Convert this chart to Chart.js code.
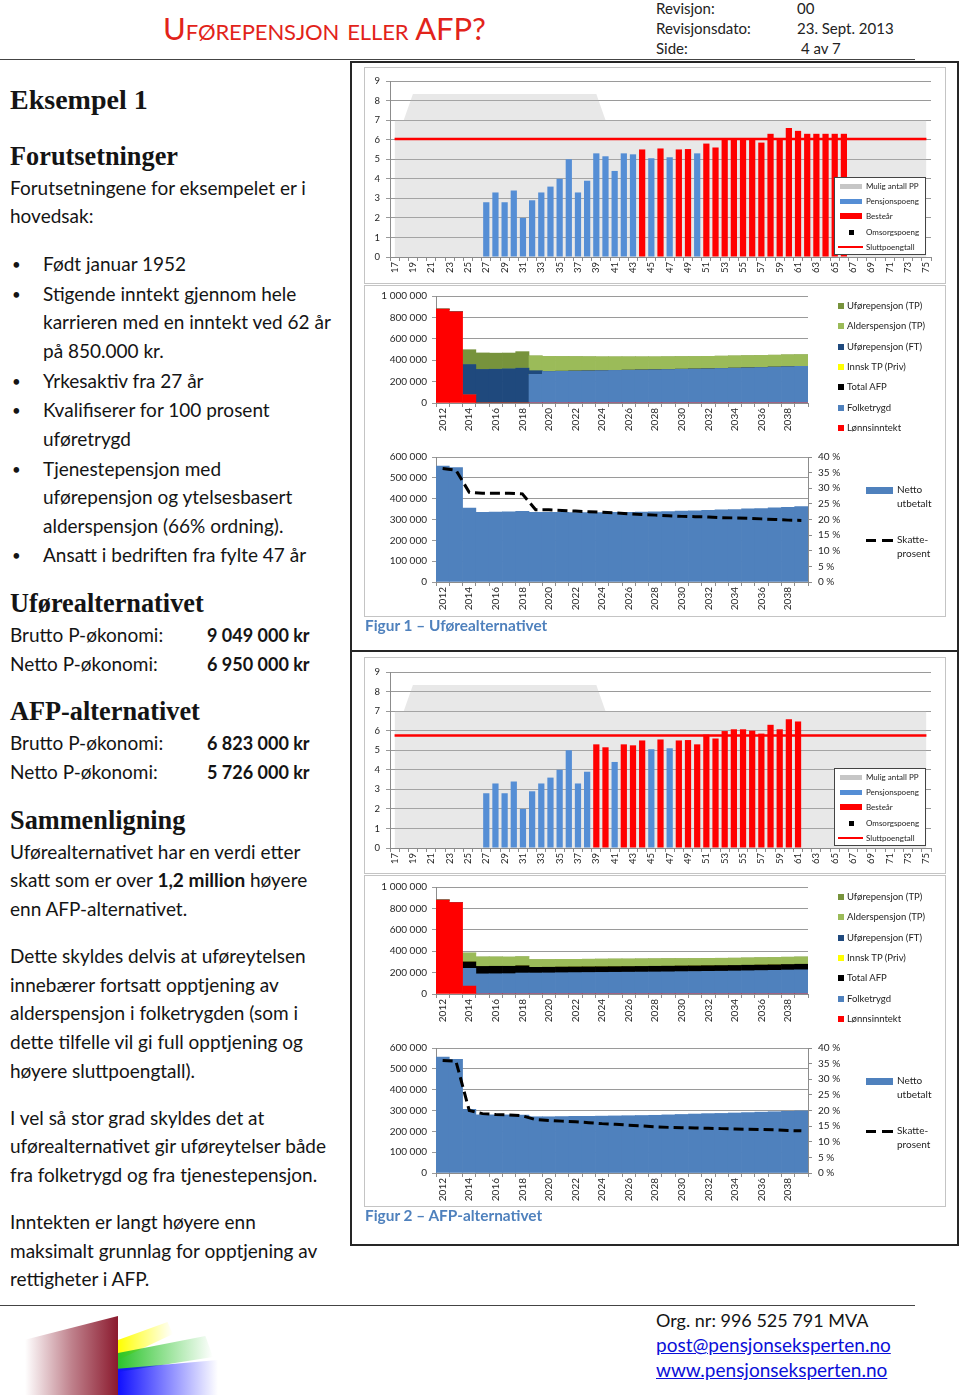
<!DOCTYPE html>
<html lang="no">
<head>
<meta charset="utf-8">
<title>Uførepensjon eller AFP?</title>
<script src="https://cdn.jsdelivr.net/npm/chart.js@4.4.0/dist/chart.umd.min.js"></script>
<style>
  body { margin:0; width:960px; height:1398px; position:relative; background:#fff; overflow:hidden;
         font-family: Lato, "Open Sans", sans-serif; color:#141414; }
  canvas { position:absolute; }
  .l { position:absolute; left:10px; height:28px; line-height:28px; font-size:19px; white-space:nowrap; }
  .b { left:43px; }
  .dot { position:absolute; left:12px; font-size:15px; line-height:28px; height:28px; }
  .h { position:absolute; left:10px; font:bold 26.3px "Liberation Serif", serif; line-height:32px; white-space:nowrap; }
  .v { left:207px; font-weight:bold; font-size:18px; }
  .box { position:absolute; border:2px solid #262626; box-sizing:border-box; }
  .inner { position:absolute; border:1px solid #c4c4c4; box-sizing:border-box; }
  .cap { position:absolute; left:365px; font-weight:bold; font-size:15.4px; color:#4f81bd; white-space:nowrap; }
  .hdr { position:absolute; font-size:15px; line-height:18px; white-space:nowrap; color:#222; }
  .ft { position:absolute; left:656px; font-size:18px; line-height:24px; white-space:nowrap; }
  .ft a { color:#0b10d8; font-size:19px; }
  .lg { position:absolute; white-space:nowrap; color:#222; }
  .sym { position:absolute; }
  .logo { position:absolute; }
</style>
</head>
<body>

<!-- topptekst -->
<div style="position:absolute;left:163px;top:9px;font-size:31px;line-height:38px;color:#e2231a;font-variant:small-caps;white-space:nowrap;letter-spacing:-0.1px">Uførepensjon eller AFP?</div>
<div class="hdr" style="left:656px;top:-1px">Revisjon:</div>
<div class="hdr" style="left:797px;top:-1px">00</div>
<div class="hdr" style="left:656px;top:19px">Revisjonsdato:</div>
<div class="hdr" style="left:797px;top:19px">23. Sept. 2013</div>
<div class="hdr" style="left:656px;top:39px">Side:</div>
<div class="hdr" style="left:801px;top:39px">4 av 7</div>
<div style="position:absolute;left:0;top:59px;width:915px;height:1px;background:#444"></div>

<!-- venstre kolonne -->
<div class="h" style="top:84px;font-size:28px">Eksempel 1</div>
<div class="h" style="top:141px">Forutsetninger</div>
<div class="l" style="top:174px">Forutsetningene for eksempelet er i</div>
<div class="l" style="top:202px">hovedsak:</div>

<div class="dot" style="top:250px">•</div><div class="l b" style="top:250px">Født januar 1952</div>
<div class="dot" style="top:280px">•</div><div class="l b" style="top:280px">Stigende inntekt gjennom hele</div>
<div class="l b" style="top:308px">karrieren med en inntekt ved 62 år</div>
<div class="l b" style="top:337px">på 850.000 kr.</div>
<div class="dot" style="top:367px">•</div><div class="l b" style="top:367px">Yrkesaktiv fra 27 år</div>
<div class="dot" style="top:396px">•</div><div class="l b" style="top:396px">Kvalifiserer for 100 prosent</div>
<div class="l b" style="top:425px">uføretrygd</div>
<div class="dot" style="top:455px">•</div><div class="l b" style="top:455px">Tjenestepensjon med</div>
<div class="l b" style="top:483px">uførepensjon og ytelsesbasert</div>
<div class="l b" style="top:512px">alderspensjon (66% ordning).</div>
<div class="dot" style="top:541px">•</div><div class="l b" style="top:541px">Ansatt i bedriften fra fylte 47 år</div>

<div class="h" style="top:588px">Uførealternativet</div>
<div class="l" style="top:621px">Brutto P-økonomi:</div><div class="l v" style="top:621px">9 049 000 kr</div>
<div class="l" style="top:650px">Netto P-økonomi:</div><div class="l v" style="top:650px">6 950 000 kr</div>

<div class="h" style="top:696px">AFP-alternativet</div>
<div class="l" style="top:729px">Brutto P-økonomi:</div><div class="l v" style="top:729px">6 823 000 kr</div>
<div class="l" style="top:758px">Netto P-økonomi:</div><div class="l v" style="top:758px">5 726 000 kr</div>

<div class="h" style="top:805px">Sammenligning</div>
<div class="l" style="top:838px">Uførealternativet har en verdi etter</div>
<div class="l" style="top:866px">skatt som er over <b>1,2 million</b> høyere</div>
<div class="l" style="top:895px">enn AFP-alternativet.</div>

<div class="l" style="top:942px">Dette skyldes delvis at uføreytelsen</div>
<div class="l" style="top:971px">innebærer fortsatt opptjening av</div>
<div class="l" style="top:999px">alderspensjon i folketrygden (som i</div>
<div class="l" style="top:1028px">dette tilfelle vil gi full opptjening og</div>
<div class="l" style="top:1057px">høyere sluttpoengtall).</div>

<div class="l" style="top:1104px">I vel så stor grad skyldes det at</div>
<div class="l" style="top:1132px">uførealternativet gir uføreytelser både</div>
<div class="l" style="top:1161px">fra folketrygd og fra tjenestepensjon.</div>

<div class="l" style="top:1208px">Inntekten er langt høyere enn</div>
<div class="l" style="top:1237px">maksimalt grunnlag for opptjening av</div>
<div class="l" style="top:1265px">rettigheter i AFP.</div>

<!-- figurbokser -->
<div class="box" style="left:350px;top:61px;width:609px;height:591px"></div>
<div class="box" style="left:350px;top:650px;width:609px;height:596px"></div>
<div class="inner" style="left:364px;top:67px;width:582px;height:217px"></div>
<div class="inner" style="left:364px;top:285px;width:582px;height:332px"></div>
<div class="inner" style="left:364px;top:657px;width:582px;height:217px"></div>
<div class="inner" style="left:364px;top:875px;width:582px;height:332px"></div>

<canvas id="poeng1" width="576" height="214" style="left:364px;top:68px"></canvas>
<canvas id="inntekt1" width="451" height="155" style="left:364px;top:285px"></canvas>
<canvas id="netto1" width="496" height="172" style="left:364px;top:445px"></canvas>
<canvas id="poeng2" width="576" height="214" style="left:364px;top:659px"></canvas>
<canvas id="inntekt2" width="451" height="155" style="left:364px;top:876px"></canvas>
<canvas id="netto2" width="496" height="172" style="left:364px;top:1036px"></canvas>

<div class="cap" style="top:616px">Figur 1 – Uførealternativet</div>
<div class="cap" style="top:1206px">Figur 2 – AFP-alternativet</div>

<div id="legends"></div>

<!-- bunntekst -->
<div style="position:absolute;left:0;top:1305px;width:915px;height:1px;background:#444"></div>
<div class="logo" style="left:25px;top:1316px;width:93px;height:79px;clip-path:polygon(0 30%,100% 0,100% 100%,0 100%);background:linear-gradient(to right,rgba(139,26,46,0),rgba(139,26,46,0.55) 50%,#8b1a2e)"></div>
<div class="logo" style="left:118px;top:1322px;width:55px;height:40px;clip-path:polygon(0 45%,90% 0,100% 30%,0 95%);background:linear-gradient(to right,#ffff00,rgba(255,255,0,0))"></div>
<div class="logo" style="left:118px;top:1336px;width:95px;height:38px;clip-path:polygon(0 45%,92% 0,100% 55%,0 95%);background:linear-gradient(to right,#2bc42b,rgba(43,196,43,0))"></div>
<div class="logo" style="left:118px;top:1360px;width:100px;height:35px;clip-path:polygon(0 25%,100% 0,100% 100%,0 100%);background:linear-gradient(to right,#1010ff,rgba(16,16,255,0))"></div>
<div class="ft" style="top:1308px">Org. nr: 996 525 791 MVA</div>
<div class="ft" style="top:1333px"><a href="#">post@pensjonseksperten.no</a></div>
<div class="ft" style="top:1358px"><a href="#">www.pensjonseksperten.no</a></div>

<script>
// kategorier
const ages = ['17','18','19','20','21','22','23','24','25','26','27','28','29','30','31','32','33','34','35','36','37','38',
  '39','40','41','42','43','44','45','46','47','48','49','50','51','52','53','54','55','56','57','58','59','60','61','62',
  '63','64','65','66','67','68','69','70','71','72','73','74','75'];
const years = ['2012','2013','2014','2015','2016','2017','2018','2019','2020','2021','2022','2023','2024','2025',
  '2026','2027','2028','2029','2030','2031','2032','2033','2034','2035','2036','2037','2038','2039'];

// mulig antall pensjonspoeng (grå flate), alder 17-75
const muligPP = [7,7,8.33,8.33,8.33,8.33,8.33,8.33,8.33,8.33,8.33,8.33,8.33,8.33,8.33,8.33,8.33,8.33,8.33,8.33,8.33,8.33,
  8.33,7,7,7,7,7,7,7,7,7,7,7,7,7,7,7,7,7,7,7,7,7,7,7,7,7,7,7,7,7,7,7,7,7,7,7,7];

// figur 1 - pensjonspoeng og besteår
const ppAlder1 = [27,28,29,30,31,32,33,34,35,36,37,38,39,40,41,42,43,45,47,50];
const ppPoeng1 = [2.8,3.3,2.8,3.4,2.0,2.9,3.3,3.6,4.0,5.0,3.3,3.9,5.3,5.15,4.4,5.3,5.25,5.05,5.1,5.3];
const bestAlder1 = [44,46,48,49,51,52,53,54,55,56,57,58,59,60,61,62,63,64,65,66];
const bestPoeng1 = [5.5,5.55,5.5,5.52,5.8,5.6,6.0,6.05,6.05,6.0,5.85,6.3,6.05,6.6,6.45,6.3,6.3,6.3,6.3,6.3];
const slutt1 = 6.03;

// figur 2 - pensjonspoeng og besteår
const ppAlder2 = [27,28,29,30,31,32,33,34,35,36,37,38,41,45,47];
const ppPoeng2 = [2.8,3.3,2.8,3.4,2.0,2.9,3.3,3.6,4.0,5.0,3.3,3.9,4.4,5.05,5.1];
const bestAlder2 = [39,40,42,43,44,46,48,49,50,51,52,53,54,55,56,57,58,59,60,61];
const bestPoeng2 = [5.3,5.15,5.3,5.25,5.5,5.55,5.5,5.52,5.3,5.8,5.6,5.98,6.07,6.07,6.0,5.85,6.3,6.07,6.58,6.47];
const slutt2 = 5.75;

// figur 1 - inntekt per år
const lonn1 = [877000,852000,77000,0,0,0,0,0,0,0,0,0,0,0,0,0,0,0,0,0,0,0,0,0,0,0,0,0];
const ftrygd1 = [0,0,0,0,0,0,0,268000,295000,297000,299000,301000,303000,305000,307000,309000,311000,313000,
  316000,318000,320000,323000,326000,329000,332000,336000,340000,343000];
const afp1 = [0,0,0,0,0,0,0,0,0,0,0,0,0,0,0,0,0,0,0,0,0,0,0,0,0,0,0,0];
const innsk1 = [0,0,0,0,0,0,0,0,0,0,0,0,0,0,0,0,0,0,0,0,0,0,0,0,0,0,0,0];
const uforeFT1 = [0,0,283000,314000,316000,320000,326000,34000,0,0,0,0,0,0,0,0,0,0,0,0,0,0,0,0,0,0,0,0];
const alderTP1 = [0,0,0,0,0,0,0,138000,140000,137000,134000,131000,128000,126000,124000,122000,120000,119000,
  117000,116000,116000,115000,114000,113000,112000,111000,110000,108000];
const uforeTP1 = [0,0,138000,154000,150000,147000,154000,0,0,0,0,0,0,0,0,0,0,0,0,0,0,0,0,0,0,0,0,0];

// figur 2 - inntekt per år
const lonn2 = [878000,855000,74000,0,0,0,0,0,0,0,0,0,0,0,0,0,0,0,0,0,0,0,0,0,0,0,0,0];
const ftrygd2 = [0,0,166000,188000,189000,190000,196000,196000,197000,199000,200000,201000,202000,203000,204000,
  205000,206000,207000,209000,210000,212000,213000,215000,217000,219000,221000,224000,226000];
const afp2 = [0,0,60000,70000,70000,69000,68000,53000,53000,53000,53000,53000,53000,53000,53000,53000,53000,53000,
  53000,53000,53000,53000,52000,52000,52000,52000,52000,52000];
const innsk2 = [0,0,0,0,0,0,0,0,0,0,0,0,0,0,0,0,0,0,0,0,0,0,0,0,0,0,0,0];
const uforeFT2 = [0,0,0,0,0,0,0,0,0,0,0,0,0,0,0,0,0,0,0,0,0,0,0,0,0,0,0,0];
const alderTP2 = [0,0,83000,88000,87000,86000,84000,72000,72000,72000,71000,71000,71000,71000,70000,70000,70000,
  70000,68000,68000,68000,68000,68000,68000,68000,68000,68000,68000];
const uforeTP2 = [0,0,0,0,0,0,0,0,0,0,0,0,0,0,0,0,0,0,0,0,0,0,0,0,0,0,0,0];

// netto utbetalt og skatteprosent
const netto1 = [557000,549000,355000,334000,336000,337000,339000,335000,334000,334000,333000,333000,333000,334000,
  335000,336000,337000,338000,340000,342000,344000,346000,348000,351000,353000,356000,359000,362000];
const skatt1 = [36.3,35.8,28.7,28.4,28.4,28.4,28.2,23.1,23.1,22.9,22.7,22.5,22.3,22.1,21.8,21.6,21.4,21.2,
  21.0,20.9,20.8,20.6,20.5,20.4,20.2,20.0,19.8,19.7];
const netto2 = [556000,546000,306000,279000,279000,279000,278000,270000,270000,271000,272000,272000,273000,274000,
  275000,276000,277000,279000,281000,283000,285000,286000,288000,290000,292000,294000,296000,298000];
const skatt2 = [36.0,35.8,20.0,19.0,18.7,18.6,18.3,17.1,16.8,16.6,16.4,16.1,15.8,15.6,15.3,15.1,14.8,14.6,
  14.5,14.4,14.3,14.2,14.1,14.0,13.9,13.8,13.6,13.5];

const poengLabels = ['Mulig antall PP','Pensjonspoeng','Besteår','Omsorgspoeng','Sluttpoengtall'];
const inntektLabels = ['Uførepensjon (TP)','Alderspensjon (TP)','Uførepensjon (FT)','Innsk TP (Priv)','Total AFP','Folketrygd','Lønnsinntekt'];
const inntektColors = ['#77933c','#9bbb59','#1f497d','#ffff00','#000000','#4f81bd','#ff0000'];

Chart.defaults.font.family = 'Lato';
Chart.defaults.color = '#262626';

const gridCol = '#9a9a9a';
const axisCol = '#8c8c8c';

function fmt(v) {
  return String(v).replace(/\B(?=(\d{3})+(?!\d))/g, ' ');
}
function pts(a, v) {
  return a.map((x, i) => ({ x: String(x), y: v[i] }));
}
function everyOther(v, i) {
  return i % 2 === 0 ? this.getLabelForValue(v) : '';
}
function xScale(h, size) {
  return {
    offset: true,
    grid: { display: true, drawOnChartArea: false, tickLength: 4, color: axisCol, offset: true },
    border: { color: axisCol },
    ticks: { autoSkip: false, minRotation: 90, maxRotation: 90, padding: 1, font: { size: size }, callback: everyOther },
    afterFit(s) { s.height = h; }
  };
}

function poengChart(id, pA, pV, bA, bV, slutt) {
  new Chart(document.getElementById(id), {
    type: 'bar',
    data: {
      labels: ages,
      datasets: [
        { type: 'line', label: poengLabels[0], data: muligPP, fill: 'origin', backgroundColor: 'rgba(185,185,185,0.33)',
          borderWidth: 0, pointRadius: 0, order: 3 },
        { label: poengLabels[1], data: pts(pA, pV), backgroundColor: '#558ed5', grouped: false,
          barPercentage: 0.68, categoryPercentage: 1, order: 2 },
        { label: poengLabels[2], data: pts(bA, bV), backgroundColor: '#ff0000', grouped: false,
          barPercentage: 0.68, categoryPercentage: 1, order: 2 },
        { type: 'line', label: poengLabels[3], data: [], backgroundColor: '#000', pointStyle: 'rect', showLine: false },
        { type: 'line', label: poengLabels[4], data: [{ x: '17', y: slutt }, { x: '75', y: slutt }],
          borderColor: '#ff0000', borderWidth: 2.5, pointRadius: 0, order: 1 }
      ]
    },
    options: {
      responsive: false, animation: false,
      layout: { padding: { top: 13, right: 9, left: 0, bottom: 0 } },
      plugins: { legend: { display: false }, tooltip: { enabled: false } },
      scales: {
        x: xScale(25, 9.5),
        y: { min: 0, max: 9, ticks: { stepSize: 1, padding: 6, font: { size: 9.5 } },
             grid: { color: gridCol, tickLength: 4 }, border: { color: axisCol },
             afterFit(s) { s.width = 26; } }
      }
    }
  });
}

function inntektChart(id, series) {
  // stablet nedenfra: lønn, folketrygd, AFP, innsk TP, uføre FT, alders TP, uføre TP
  const order = [6, 5, 4, 3, 2, 1, 0];
  new Chart(document.getElementById(id), {
    type: 'bar',
    data: {
      labels: years,
      datasets: order.map(k => ({
        label: inntektLabels[k], data: series[k], backgroundColor: inntektColors[k],
        borderWidth: 0, barPercentage: 1, categoryPercentage: 1
      }))
    },
    options: {
      responsive: false, animation: false,
      layout: { padding: { top: 11, right: 7, left: 0, bottom: 0 } },
      plugins: { legend: { display: false }, tooltip: { enabled: false } },
      scales: {
        x: Object.assign(xScale(37, 10), { stacked: true }),
        y: { stacked: true, min: 0, max: 1000000,
             ticks: { stepSize: 200000, padding: 5, font: { size: 10 }, callback: v => fmt(v) },
             grid: { color: gridCol, tickLength: 4 }, border: { color: axisCol },
             afterFit(s) { s.width = 72; } }
      }
    }
  });
}

function nettoChart(id, netto, skatt) {
  new Chart(document.getElementById(id), {
    type: 'bar',
    data: {
      labels: years,
      datasets: [
        { type: 'line', label: 'Skatteprosent', data: skatt, yAxisID: 'y1', borderColor: '#000', borderWidth: 3,
          borderDash: [10, 5], pointRadius: 0, order: 1 },
        { label: 'Netto utbetalt', data: netto, backgroundColor: '#4f81bd', borderWidth: 0,
          barPercentage: 1, categoryPercentage: 1, order: 2 }
      ]
    },
    options: {
      responsive: false, animation: false,
      layout: { padding: { top: 11, right: 0, left: 0, bottom: 0 } },
      plugins: { legend: { display: false }, tooltip: { enabled: false } },
      scales: {
        x: xScale(35, 10),
        y: { min: 0, max: 600000,
             ticks: { stepSize: 100000, padding: 5, font: { size: 10 }, callback: v => fmt(v) },
             grid: { color: gridCol, tickLength: 4 }, border: { color: axisCol },
             afterFit(s) { s.width = 72; } },
        y1: { position: 'right', min: 0, max: 40,
              ticks: { stepSize: 5, padding: 6, font: { size: 10 }, callback: v => v + ' %' },
              grid: { drawOnChartArea: false, color: axisCol, tickLength: 4 }, border: { color: axisCol },
              afterFit(s) { s.width = 52; } }
      }
    }
  });
}

poengChart('poeng1', ppAlder1, ppPoeng1, bestAlder1, bestPoeng1, slutt1);
poengChart('poeng2', ppAlder2, ppPoeng2, bestAlder2, bestPoeng2, slutt2);
inntektChart('inntekt1', [uforeTP1, alderTP1, uforeFT1, innsk1, afp1, ftrygd1, lonn1]);
inntektChart('inntekt2', [uforeTP2, alderTP2, uforeFT2, innsk2, afp2, ftrygd2, lonn2]);
nettoChart('netto1', netto1, skatt1);
nettoChart('netto2', netto2, skatt2);

// forklaringer (Excel-stil) for begge figurer
function legends(dy) {
  let h = '';
  // poengdiagram: boks oppå plottet
  h += '<div style="position:absolute;left:834px;top:' + (177 + dy) + 'px;width:92px;height:78px;border:1px solid #444;background:#fff;box-sizing:border-box">';
  const sy = [8, 23, 38, 54, 69];
  const syms = [
    'left:5px;width:22px;height:5px;background:#c6c6c6',
    'left:5px;width:22px;height:5px;background:#558ed5',
    'left:5px;width:22px;height:6px;background:#ff0000',
    'left:14px;width:5px;height:5px;background:#000',
    'left:3px;width:25px;height:2px;background:#ff0000'
  ];
  poengLabels.forEach((t, i) => {
    const hh = parseFloat(syms[i].match(/height:([\d.]+)/)[1]);
    h += '<div class="sym" style="' + syms[i] + ';top:' + (sy[i] - hh / 2) + 'px"></div>';
    h += '<div class="lg" style="left:31px;top:' + (sy[i] - 6) + 'px;font-size:8px;line-height:12px">' + t + '</div>';
  });
  h += '</div>';
  // inntektsdiagram
  inntektLabels.forEach((t, i) => {
    const y = 306 + i * 20.3 + dy;
    h += '<div class="sym" style="left:838px;top:' + (y - 3) + 'px;width:6px;height:6px;background:' + inntektColors[i] + '"></div>';
    h += '<div class="lg" style="left:847px;top:' + (y - 7) + 'px;font-size:9.5px;line-height:14px">' + t + '</div>';
  });
  // nettodiagram
  h += '<div class="sym" style="left:866px;top:' + (487 + dy) + 'px;width:27px;height:7px;background:#4f81bd"></div>';
  h += '<div class="lg" style="left:897px;top:' + (483 + dy) + 'px;font-size:10px;line-height:13.5px">Netto<br>utbetalt</div>';
  h += '<div class="sym" style="left:866px;top:' + (539 + dy) + 'px;width:10px;height:3px;background:#000"></div>';
  h += '<div class="sym" style="left:882px;top:' + (539 + dy) + 'px;width:11px;height:3px;background:#000"></div>';
  h += '<div class="lg" style="left:897px;top:' + (533 + dy) + 'px;font-size:10px;line-height:13.5px">Skatte-<br>prosent</div>';
  return h;
}
document.getElementById('legends').innerHTML = legends(0) + legends(591);
</script>
</body>
</html>
